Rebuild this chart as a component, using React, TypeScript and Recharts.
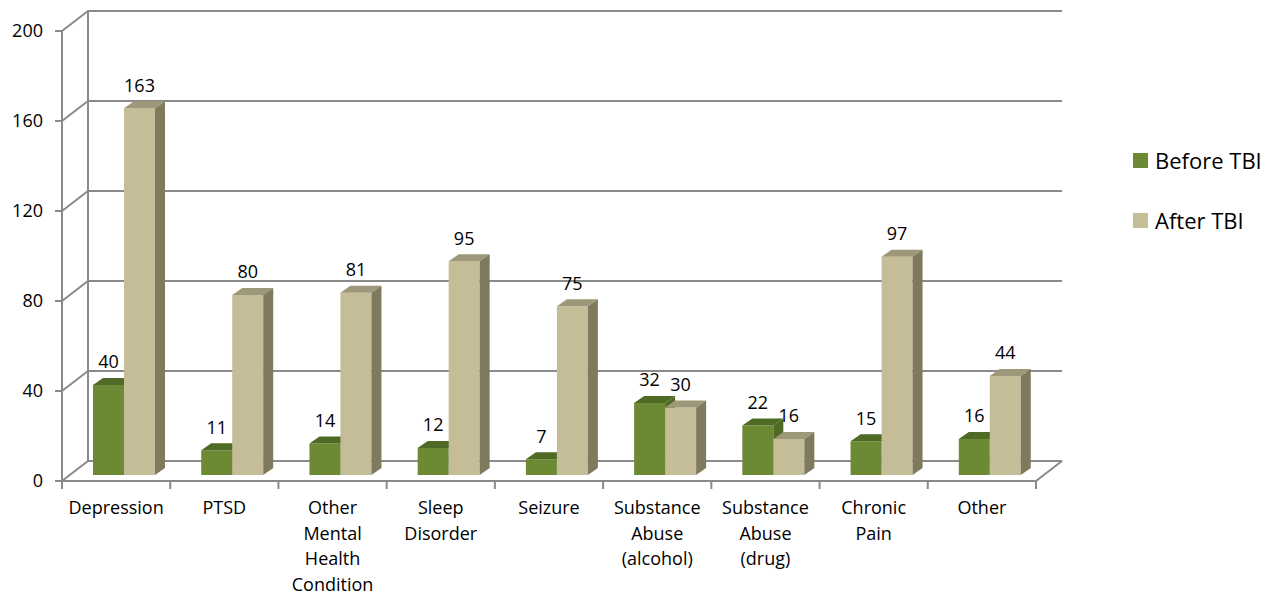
import React from "react";
import { Bar, BarChart, CartesianGrid, LabelList, XAxis, YAxis } from "recharts";

const CATEGORIES = [
  "Depression",
  "PTSD",
  "Other\nMental\nHealth\nCondition",
  "Sleep\nDisorder",
  "Seizure",
  "Substance\nAbuse\n(alcohol)",
  "Substance\nAbuse\n(drug)",
  "Chronic\nPain",
  "Other",
];
const BEFORE_TBI = [40, 11, 14, 12, 7, 32, 22, 15, 16];
const AFTER_TBI = [163, 80, 81, 95, 75, 30, 16, 97, 44];
const Y_TICKS = [0, 40, 80, 120, 160, 200];

const data = CATEGORIES.map((name, i) => ({
  name,
  before: BEFORE_TBI[i],
  after: AFTER_TBI[i],
}));

// plot area = the plane of the bar front faces
const W = 1280;
const H = 596;
const PLOT_LEFT = 70;
const PLOT_RIGHT = 1044;
const PLOT_TOP = 25;
const PLOT_BOTTOM = 475;
const Y_AXIS_W = 60;
const BAND = (PLOT_RIGHT - PLOT_LEFT) / CATEGORIES.length;

// 3d offsets
const FRONT = { dx: -8, dy: 6 };
const BACK = { dx: 18, dy: -14 };
const DEPTH = { dx: 10, dy: -7 };

const LINE = "#8a8a8a";
const FONT = "'Open Sans', sans-serif";

const GREEN = { front: "#6b8a33", top: "#4f6a25", side: "#4f6a25" };
const TAN = { front: "#c4bd97", top: "#9d9879", side: "#7f7a5e" };

function make3dBar(c: { front: string; top: string; side: string }) {
  return (props: any) => {
    const { x, y, width, height } = props;
    if (!height || height <= 0) return <g />;
    const { dx, dy } = DEPTH;
    return (
      <g>
        <rect x={x} y={y} width={width} height={height} fill={c.front} />
        <polygon
          points={`${x},${y} ${x + dx},${y + dy} ${x + width + dx},${y + dy} ${x + width},${y}`}
          fill={c.top}
        />
        <polygon
          points={`${x + width},${y} ${x + width + dx},${y + dy} ${x + width + dx},${y + height + dy} ${x + width},${y + height}`}
          fill={c.side}
        />
      </g>
    );
  };
}

function gridLine(props: any) {
  const { y1, index } = props;
  const isFloor = Math.abs(y1 - PLOT_BOTTOM) < 1;
  const fl = PLOT_LEFT + FRONT.dx;
  const fr = PLOT_RIGHT + FRONT.dx;
  const bl = PLOT_LEFT + BACK.dx;
  const br = PLOT_RIGHT + BACK.dx;
  return (
    <g key={`grid-${index}`}>
      <polyline
        points={`${fl},${y1 + FRONT.dy} ${bl},${y1 + BACK.dy} ${br},${y1 + BACK.dy}`}
        fill="none"
        stroke={LINE}
        strokeWidth={2}
      />
      {isFloor && (
        <>
          <polyline
            points={`${fl},${y1 + FRONT.dy} ${fr},${y1 + FRONT.dy} ${br},${y1 + BACK.dy}`}
            fill="none"
            stroke={LINE}
            strokeWidth={2}
          />
          <line x1={fl} y1={PLOT_TOP + FRONT.dy} x2={fl} y2={PLOT_BOTTOM + FRONT.dy} stroke={LINE} strokeWidth={2} />
          <line x1={bl} y1={PLOT_TOP + BACK.dy} x2={bl} y2={PLOT_BOTTOM + BACK.dy} stroke={LINE} strokeWidth={2} />
        </>
      )}
    </g>
  );
}

function YTick(props: any) {
  const { y, payload } = props;
  const fy = y + FRONT.dy;
  const ax = PLOT_LEFT + FRONT.dx;
  return (
    <g>
      <line x1={ax - 7} y1={fy} x2={ax} y2={fy} stroke={LINE} strokeWidth={2} />
      <text x={ax - 19} y={fy} dy="0.35em" textAnchor="end" fontSize={18} fill="#000" fontFamily={FONT}>
        {payload.value}
      </text>
    </g>
  );
}

function XTick(props: any) {
  const { x, payload, index } = props;
  const cx = x + FRONT.dx;
  const ty = PLOT_BOTTOM + FRONT.dy;
  const lines = String(payload.value).split("\n");
  const last = index === CATEGORIES.length - 1;
  return (
    <g>
      <line x1={cx - BAND / 2} y1={ty} x2={cx - BAND / 2} y2={ty + 8} stroke={LINE} strokeWidth={2} />
      {last && <line x1={cx + BAND / 2} y1={ty} x2={cx + BAND / 2} y2={ty + 8} stroke={LINE} strokeWidth={2} />}
      <text textAnchor="middle" fontSize={18} fill="#000" fontFamily={FONT}>
        {lines.map((l, i) => (
          <tspan key={i} x={cx} y={ty + 27 + i * 25.5} dy="0.35em">
            {l}
          </tspan>
        ))}
      </text>
    </g>
  );
}

function valueLabel(props: any) {
  const { x, y, width, value } = props;
  return (
    <text
      x={x + width / 2}
      y={y - 23}
      dy="0.35em"
      textAnchor="middle"
      fontSize={18}
      fill="#000"
      fontFamily={FONT}
    >
      {value}
    </text>
  );
}

const LEGEND = [
  { label: "Before TBI", color: GREEN.front },
  { label: "After TBI", color: TAN.front },
];

export default function App() {
  return (
    <div style={{ position: "absolute", left: 0, top: 0, width: W, height: H, background: "#fff", fontFamily: FONT }}>
      <BarChart
        width={W}
        height={H}
        data={data}
        margin={{ top: PLOT_TOP, left: PLOT_LEFT - Y_AXIS_W, right: W - PLOT_RIGHT, bottom: 0 }}
        barSize={31}
        barGap={0}
      >
        <CartesianGrid horizontal={gridLine} vertical={false} />
        <XAxis
          dataKey="name"
          axisLine={false}
          tickLine={false}
          tick={XTick}
          interval={0}
          height={H - PLOT_BOTTOM}
        />
        <YAxis
          domain={[0, 200]}
          ticks={Y_TICKS}
          axisLine={false}
          tickLine={false}
          tick={YTick}
          width={Y_AXIS_W}
        />
        <Bar dataKey="before" name="Before TBI" shape={make3dBar(GREEN)} isAnimationActive={false}>
          <LabelList dataKey="before" content={valueLabel} />
        </Bar>
        <Bar dataKey="after" name="After TBI" shape={make3dBar(TAN)} isAnimationActive={false}>
          <LabelList dataKey="after" content={valueLabel} />
        </Bar>
      </BarChart>
      {LEGEND.map((item, i) => (
        <div
          key={item.label}
          style={{
            position: "absolute",
            left: 1133,
            top: 147 + i * 60,
            height: 26,
            lineHeight: "26px",
            display: "flex",
            alignItems: "center",
            fontSize: 22,
            color: "#000",
            whiteSpace: "nowrap",
          }}
        >
          <span style={{ width: 15, height: 15, background: item.color, marginRight: 7, display: "inline-block" }} />
          {item.label}
        </div>
      ))}
    </div>
  );
}
